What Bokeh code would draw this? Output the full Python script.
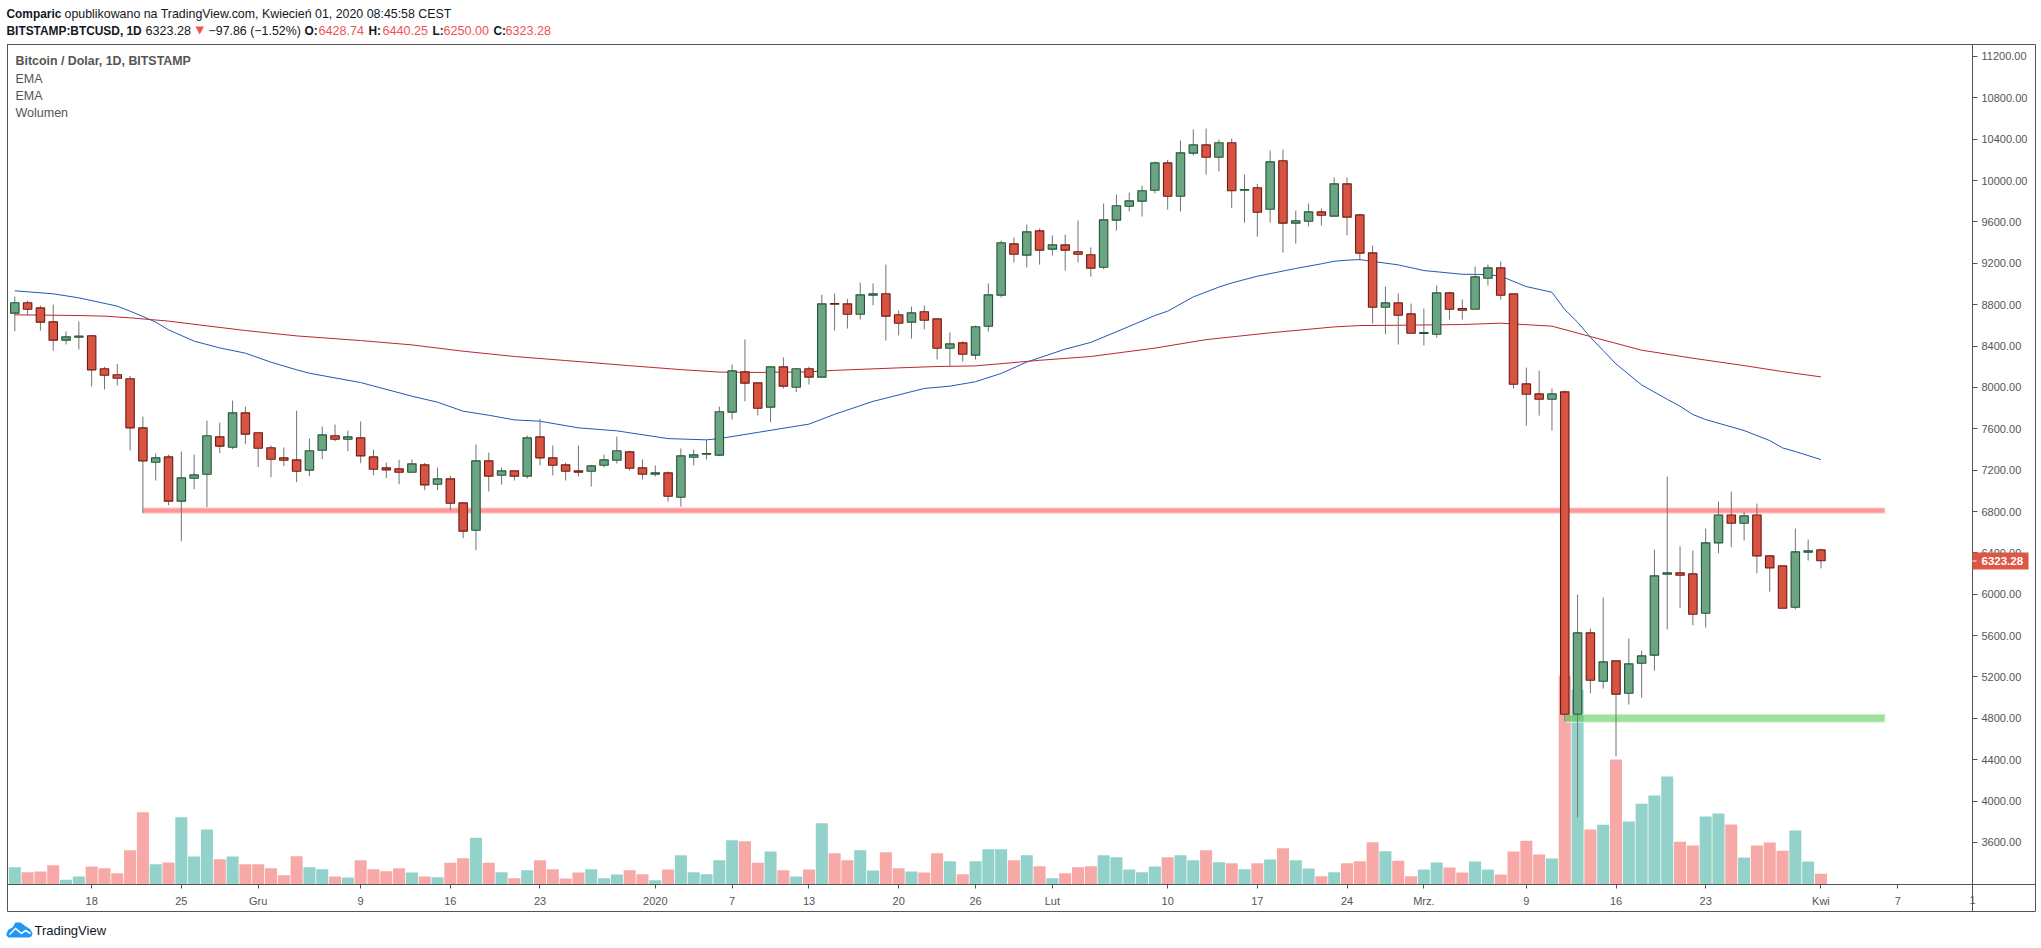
from bokeh.core.properties import value
from bokeh.embed import file_html
from bokeh.resources import INLINE
from bokeh.plotting import figure
from bokeh.models import (ColumnDataSource, FixedTicker, NumeralTickFormatter, Range1d)

# ---- daily candles, BITSTAMP:BTCUSD, 12 Nov 2019 .. 1 Apr 2020 (index = days since 12 Nov)
direction = ("GRRRGGRRRR" "RGRGGGRGRR" "RRRGGRGRRR" "RGRGRRGRGR" "GRRRRGGGRR"
             "GRGGGGGRRG" "RGRGRRGGRR" "GRRGRGGGRG" "RGRRRGGGGG" "RGGRGRGRGR"
             "GGRGRRRGRR" "GGRRGGRRRR" "GRGRGRGGGG" "RRGGRGRRRG" "GR")
body_high = [8818, 8818, 8769, 8634, 8489, 8497, 8499, 8180, 8122, 8083,
             7609, 7319, 7328, 7125, 7154, 7532, 7522, 7754, 7754, 7561,
             7416, 7319, 7299, 7387, 7541, 7532, 7522, 7512, 7328, 7222,
             7212, 7261, 7251, 7116, 7116, 6884, 7290, 7290, 7193, 7193,
             7512, 7522, 7319, 7251, 7193, 7241, 7299, 7387, 7377, 7222,
             7174, 7174, 7338, 7348, 7361, 7764, 8160, 8150, 8044, 8199,
             8199, 8180, 8180, 8808, 8811, 8808, 8895, 8905, 8905, 8702,
             8721, 8731, 8663, 8421, 8431, 8586, 8895, 9398, 9388, 9504,
             9514, 9378, 9378, 9311, 9282, 9620, 9756, 9804, 9901, 10171,
             10171, 10268, 10345, 10345, 10365, 10365, 9913, 9930, 10181, 10191,
             9611, 9697, 9697, 9968, 9968, 9668, 9301, 8817, 8817, 8711,
             8530, 8914, 8914, 8763, 9069, 9156, 9156, 8904, 8034, 7937,
             7937, 7957, 5627, 5627, 5346, 5356, 5327, 5404, 6178, 6207,
             6207, 6197, 6497, 6767, 6767, 6758, 6767, 6371, 6274, 6410,
             6421.14, 6428.74]
body_low = [8718, 8756, 8631, 8457, 8457, 8485, 8170, 8118, 8089, 7609,
            7290, 7277, 6900, 6900, 7122, 7161, 7432, 7422, 7548, 7412,
            7306, 7296, 7190, 7200, 7393, 7499, 7499, 7338, 7209, 7203,
            7180, 7180, 7058, 7064, 6880, 6610, 6619, 7142, 7151, 7142,
            7142, 7319, 7248, 7190, 7180, 7190, 7248, 7296, 7219, 7161,
            7161, 6948, 6938, 7325, 7354, 7345, 7761, 8041, 7799, 7809,
            8012, 8002, 8099, 8099, 8805, 8708, 8708, 8892, 8689, 8621,
            8631, 8650, 8379, 8379, 8321, 8312, 8592, 8892, 9288, 9279,
            9327, 9337, 9327, 9288, 9153, 9162, 9617, 9752, 9801, 9907,
            9849, 9849, 10265, 10226, 10226, 9901, 9907, 9694, 9723, 9588,
            9588, 9607, 9665, 9656, 9646, 9298, 8775, 8775, 8698, 8524,
            8521, 8514, 8756, 8746, 8756, 9056, 8891, 8031, 7934, 7886,
            7886, 4840, 4840, 5169, 5159, 5034, 5043, 5333, 5411, 6194,
            6184, 5807, 5817, 6497, 6687, 6687, 6371, 6255, 5865, 5875,
            6407, 6323.28]
wick_high = [8879, 8840, 8792, 8801, 8541, 8637, 8508, 8199, 8228, 8112,
             7718, 7361, 7348, 7380, 7351, 7680, 7660, 7873, 7815, 7561,
             7438, 7419, 7776, 7506, 7622, 7641, 7583, 7670, 7399, 7274,
             7300, 7303, 7270, 7225, 7145, 6884, 7448, 7370, 7225, 7193,
             7535, 7696, 7438, 7274, 7438, 7251, 7351, 7525, 7387, 7303,
             7245, 7187, 7409, 7400, 7493, 7815, 8221, 8463, 8044, 8199,
             8289, 8189, 8202, 8895, 8908, 8856, 9014, 9005, 9188, 8744,
             8782, 8792, 8663, 8531, 8447, 8598, 9005, 9420, 9449, 9575,
             9536, 9469, 9478, 9614, 9353, 9778, 9865, 9884, 9952, 10184,
             10200, 10387, 10494, 10503, 10397, 10407, 10058, 9968, 10291, 10300,
             9710, 9778, 9730, 10029, 10029, 9678, 9372, 8975, 8908, 8811,
             8762, 8985, 8924, 8850, 9169, 9188, 9217, 8904, 8192, 8163,
             7989, 7970, 5997, 5668, 5968, 5356, 5572, 5456, 6432, 7138,
             6464, 6423, 6635, 6896, 6993, 6800, 6877, 6371, 6274, 6635,
             6529, 6440.25]
wick_low = [8543, 8695, 8550, 8357, 8415, 8366, 8009, 7980, 8018, 7390,
            6784, 7100, 6861, 6513, 7016, 6842, 7364, 7403, 7451, 7229,
            7132, 7238, 7084, 7142, 7306, 7480, 7383, 7267, 7151, 7122,
            7064, 7180, 7006, 7006, 6813, 6542, 6426, 6993, 7061, 7100,
            7119, 7245, 7148, 7100, 7138, 7042, 7225, 7264, 7196, 7109,
            7138, 6897, 6848, 7245, 7303, 7335, 7690, 7867, 7728, 7664,
            7989, 7954, 8028, 8099, 8550, 8569, 8657, 8795, 8453, 8502,
            8473, 8560, 8270, 8202, 8250, 8270, 8540, 8869, 9208, 9159,
            9188, 9275, 9130, 9208, 9072, 9143, 9517, 9701, 9652, 9875,
            9720, 9701, 10242, 10058, 10088, 9733, 9594, 9459, 9594, 9304,
            9391, 9556, 9565, 9656, 9469, 9227, 8618, 8514, 8414, 8524,
            8405, 8482, 8656, 8656, 8756, 8985, 8850, 7989, 7631, 7728,
            7583, 4763, 3844, 5043, 5088, 4434, 4934, 5001, 5262, 5659,
            5865, 5701, 5678, 6397, 6455, 6519, 6204, 6026, 5865, 5855,
            6326, 6250]
# volume in arbitrary units
volumes = [52, 37, 39, 58, 14, 24, 54, 49, 34, 103,
           217, 61, 66, 202, 84, 165, 76, 84, 61, 61,
           49, 28, 85, 52, 46, 24, 21, 73, 46, 40,
           49, 36, 24, 22, 65, 79, 140, 65, 37, 19,
           43, 73, 46, 18, 36, 46, 19, 30, 43, 31,
           13, 45, 88, 37, 31, 73, 133, 130, 65, 99,
           43, 24, 45, 184, 94, 73, 103, 42, 97, 49,
           39, 36, 94, 70, 31, 70, 106, 106, 73, 88,
           55, 19, 34, 52, 55, 88, 82, 45, 37, 54,
           82, 88, 73, 103, 67, 64, 46, 64, 75, 109,
           73, 48, 25, 37, 64, 70, 127, 100, 71, 25,
           45, 66, 51, 36, 69, 45, 30, 99, 131, 90,
           78, 627, 584, 165, 179, 375, 189, 242, 267, 324,
           128, 117, 204, 213, 180, 81, 117, 126, 101, 162,
           69, 32]

# ---- moving averages, read at the days where the line visibly bends
ema_fast_days = [0, 3, 5, 8, 9, 10, 11, 12, 14, 16, 18, 20, 22, 23, 27, 31, 33, 35, 37, 39, 41, 44, 47,
                 51, 54, 55, 58, 62, 64, 67, 71, 73, 75, 77, 79, 82, 84, 87, 89, 90, 92, 94, 95, 97, 100,
                 102, 103, 104, 105, 106, 108, 110, 113, 115, 116, 118, 120, 121, 122, 123, 124, 125,
                 127, 129, 130, 131, 132, 135, 137, 138, 139, 141]
ema_fast_vals = [8934, 8905, 8866, 8786, 8737, 8686, 8631, 8557, 8447, 8382, 8331, 8244, 8170, 8137, 8047,
                 7915, 7857, 7770, 7731, 7686, 7673, 7609, 7580, 7505, 7493, 7505, 7565, 7645, 7740, 7865,
                 7990, 8012, 8055, 8135, 8245, 8370, 8435, 8590, 8695, 8737, 8875, 8970, 9010, 9075, 9150,
                 9195, 9220, 9230, 9236, 9218, 9185, 9130, 9094, 9091, 9075, 8975, 8920, 8753, 8630, 8485,
                 8356, 8227, 8024, 7885, 7818, 7738, 7689, 7583, 7486, 7415, 7380, 7302]
ema_slow_days = [0, 5, 7, 9, 12, 15, 18, 22, 27, 31, 35, 39, 43, 48, 52, 55, 58, 62, 64, 69, 72, 75, 80, 84,
                 89, 93, 98, 103, 105, 108, 113, 116, 120, 123, 127, 131, 135, 138, 141]
ema_slow_vals = [8702, 8695, 8689, 8673, 8641, 8595, 8550, 8498, 8453, 8411, 8350, 8299, 8260, 8210, 8172,
                 8148, 8145, 8150, 8165, 8189, 8202, 8208, 8262, 8299, 8380, 8462, 8528, 8585, 8598, 8601,
                 8608, 8621, 8592, 8492, 8360, 8282, 8211, 8153, 8102]

# ---- drawn zones
resistance_days = [10, 146]
resistance_levels = [6784, 6835]
support_days = [121, 146]
support_levels = [4763, 4840]

# ---- axes
price_ticks = [3600, 4000, 4400, 4800, 5200, 5600, 6000, 6400, 6800, 7200, 7600, 8000, 8400,
               8800, 9200, 9600, 10000, 10400, 10800, 11200]
time_ticks = [6, 13, 19, 27, 34, 41, 50, 56, 62, 69, 75, 81, 90, 97, 104, 110, 118, 125, 132, 141, 147]
time_labels = ["18", "25", "Gru", "9", "16", "23", "2020", "7", "13", "20", "26", "Lut", "10", "17", "24",
               "Mrz.", "9", "16", "23", "Kwi", "7"]

FONT = "Liberation Sans"
W, H = 2041, 948
F_L, F_R, F_T, F_B = 7, 1972, 44, 884

days = list(range(len(direction)))
UP_FILL, UP_LINE, DN_FILL, DN_LINE = "#6ba583", "#225437", "#d75442", "#6f1a12"
candles = ColumnDataSource(dict(
    x=days, top=body_high, bottom=body_low, hi=wick_high, lo=wick_low, vol=volumes,
    fill=[UP_FILL if d == "G" else DN_FILL for d in direction],
    line=[UP_LINE if d == "G" else DN_LINE for d in direction],
    volc=["#93d2cb" if d == "G" else "#f7a9a7" for d in direction],
))

chart = figure(width=W, height=H, output_backend="svg", toolbar_location=None,
               x_range=Range1d(-0.57, 152.83), y_range=Range1d(3193.6, 11315.6),
               y_axis_location="right", min_border_left=F_L, min_border_right=W - F_R,
               min_border_top=F_T, min_border_bottom=H - F_B,
               background_fill_color="white", border_fill_color="white",
               outline_line_color="#555555")
chart.grid.visible = False
chart.extra_y_ranges = {"vol": Range1d(0, (F_B - F_T) * 3)}

# volume, then averages, then zones, then candles on top
chart.vbar(x="x", top="vol", bottom=0, width=0.94, source=candles, y_range_name="vol",
           fill_color="volc", line_color=None)
chart.line(ema_fast_days, ema_fast_vals, line_color="#2159b5", line_width=1)
chart.line(ema_slow_days, ema_slow_vals, line_color="#b92830", line_width=1)
chart.quad(left=resistance_days[0], right=resistance_days[1], bottom=resistance_levels[0], top=resistance_levels[1],
           fill_color="#ff9999", line_color="#ffd6d6", line_width=1)
chart.quad(left=support_days[0], right=support_days[1], bottom=support_levels[0], top=support_levels[1],
           fill_color="#4dc747", fill_alpha=0.55, line_color="#dcf6dc", line_width=1)
chart.segment(x0="x", x1="x", y0="lo", y1="hi", source=candles, line_color="#737375", line_width=1)
chart.vbar(x="x", top="top", bottom="bottom", width=0.66, source=candles, fill_color="fill", line_color="line",
           line_width=1.1)

# axes
yax = chart.yaxis[0]
yax.ticker = FixedTicker(ticks=price_ticks)
yax.formatter = NumeralTickFormatter(format="0.00")
xax = chart.xaxis[0]
xax.ticker = FixedTicker(ticks=time_ticks)
xax.major_label_overrides = dict(zip(time_ticks, time_labels))
for ax, tick_out, standoff in ((yax, 5, 4), (xax, 4, 6)):
    ax.axis_line_color = "#555555"
    ax.major_tick_line_color = "#555555"
    ax.major_tick_out = tick_out
    ax.major_tick_in = 0
    ax.minor_tick_line_color = None
    ax.major_label_text_font = FONT
    ax.major_label_text_font_size = "11px"
    ax.major_label_text_color = "#555555"
    ax.major_label_standoff = standoff

# ---- transparent sheet over the whole page for the chrome around the chart, in page pixels
sheet = figure(width=W, height=H, output_backend="svg", toolbar_location=None,
               x_range=Range1d(0, W), y_range=Range1d(H, 0), x_axis_type=None, y_axis_type=None,
               min_border=0, outline_line_color=None, background_fill_alpha=0, border_fill_alpha=0,
               styles={"margin-top": f"-{H}px"})
sheet.grid.visible = False


def poly(xs, ys, fill=None):
    sheet.patch(xs, ys, fill_color=fill, line_color=None)


def rule(xs, ys):
    sheet.line(xs, ys, line_color="#555555", line_width=1)


def text(s, x, y, color="#131722", size="12.4px", bold=False):
    sheet.text([x], [y], text=[s], text_font=value(FONT), text_font_size=size, text_color=color,
               text_align="left", text_baseline="middle",
               text_font_style="bold" if bold else "normal")


# outer frame pieces
rule([F_L, 2035, 2035, F_L, F_L], [F_T, F_T, 911, 911, F_T])
rule([F_R, F_R], [F_B, 911])
rule([F_R, 2035], [F_B, F_B])

# last price flag
poly([F_R, 2028, 2028, F_R], [552, 552, 569, 569], fill="#dd5745")
text("6323.28", 1981, 560.5, color="white", size="11.5px", bold=True)
poly([F_R, F_R + 4, F_R + 4, F_R], [560, 560, 561, 561], fill="white")
text("1", 1969, 899, color="#555555", size="11px")

# header
RED = "#ef5350"
text("Comparic", 6, 13, bold=True, size="11.9px")
text("opublikowano na TradingView.com, Kwiecień 01, 2020 08:45:58 CEST", 64, 13)
text("BITSTAMP:BTCUSD, 1D", 6, 30, bold=True, size="11.9px")
text("6323.28", 145, 30, size="12.6px")
poly([195, 203.5, 199.2], [26, 26, 34], fill=RED)
text("−97.86 (−1.52%)", 208, 30, size="12.4px")
for lab, lx, val, vx in (("O:", 304, "6428.74", 318), ("H:", 368, "6440.25", 382),
                         ("L:", 432, "6250.00", 443), ("C:", 493, "6323.28", 505)):
    text(lab, lx, 30, bold=True, size="11.9px")
    text(val, vx, 30, color=RED, size="12.6px")

# pane legend
text("Bitcoin / Dolar, 1D, BITSTAMP", 15, 60, color="#555555", bold=True)
text("EMA", 15, 78, color="#555555", size="12.5px")
text("EMA", 15, 95, color="#555555", size="12.5px")
text("Wolumen", 15, 112, color="#555555", size="12.5px")

# TradingView mark
poly([6, 8, 12, 15, 20, 24, 27, 30, 32, 31, 28, 8, 6],
     [933, 929, 927, 922, 922, 925, 927, 929, 933, 936, 937, 937, 935], fill="#2196f3")
poly([9, 15, 21, 25, 30, 30, 25, 21, 15, 9], [933, 927, 932, 929, 932, 934, 931, 934, 929, 935], fill="white")
text("TradingView", 34, 930, size="13px")

open("out.html", "w").write(file_html((chart, sheet), INLINE))
